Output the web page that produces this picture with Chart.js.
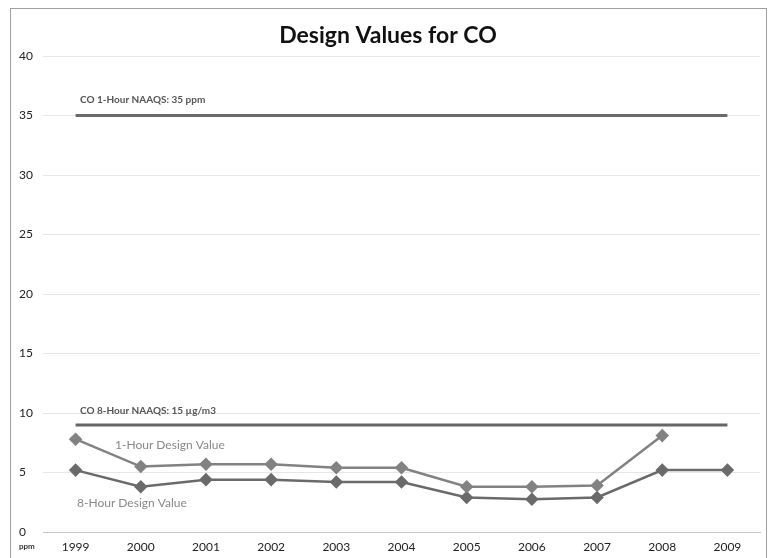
<!DOCTYPE html>
<html>
<head>
<meta charset="utf-8">
<script src="https://cdn.jsdelivr.net/npm/chart.js@4"></script>
<style>
  html, body { margin: 0; padding: 0; background: #fff; }
  #wrap { width: 774px; height: 558px; position: relative; }
</style>
</head>
<body>
<div id="wrap"><canvas id="coChart" width="774" height="558"></canvas></div>
<script>
// data
const years = ['1999', '2000', '2001', '2002', '2003', '2004', '2005', '2006', '2007', '2008', '2009'];
const oneHourValues = [7.8, 5.5, 5.7, 5.7, 5.4, 5.4, 3.8, 3.8, 3.9, 8.1, null];
const eightHourValues = [5.2, 3.8, 4.4, 4.4, 4.2, 4.2, 2.9, 2.75, 2.9, 5.2, 5.2];
const oneHourStandard = [35, 35, 35, 35, 35, 35, 35, 35, 35, 35, 35];
const eightHourStandard = [9, 9, 9, 9, 9, 9, 9, 9, 9, 9, 9];
const yTicks = [0, 5, 10, 15, 20, 25, 30, 35, 40];

const fontFamily = 'Lato, "Open Sans", sans-serif';

// title, frame and the in-plot text labels
const decorations = {
    id: 'decorations',
    afterDraw(chart) {
        const ctx = chart.ctx;
        const y = chart.scales.y;
        ctx.save();
        ctx.strokeStyle = '#a0a0a0';
        ctx.lineWidth = 1;
        ctx.strokeRect(10.5, 8.5, 756, 600);

        ctx.fillStyle = '#111';
        ctx.font = 'bold 23px ' + fontFamily;
        ctx.textAlign = 'center';
        ctx.textBaseline = 'middle';
        ctx.fillText('Design Values for CO', 388, 36);

        ctx.textAlign = 'left';
        ctx.fillStyle = '#555';
        ctx.font = 'bold 10px ' + fontFamily;
        ctx.fillText('CO 1-Hour NAAQS: 35 ppm', 80, y.getPixelForValue(36.3));
        ctx.fillText('CO 8-Hour NAAQS: 15 \u00b5g/m3', 80, y.getPixelForValue(10.2));

        ctx.fillStyle = '#888';
        ctx.font = '12px ' + fontFamily;
        ctx.fillText('1-Hour Design Value', 115, y.getPixelForValue(7.3));
        ctx.fillText('8-Hour Design Value', 77, y.getPixelForValue(2.4));

        ctx.fillStyle = '#333';
        ctx.font = 'bold 8px ' + fontFamily;
        ctx.fillText('ppm', 19, 546);
        ctx.restore();
    }
};

new Chart(document.getElementById('coChart'), {
    type: 'line',
    data: {
        labels: years,
        datasets: [
            {
                label: 'CO 1-Hour NAAQS',
                data: oneHourStandard,
                borderColor: '#6a6a6a',
                borderWidth: 3,
                pointRadius: 0
            },
            {
                label: 'CO 8-Hour NAAQS',
                data: eightHourStandard,
                borderColor: '#666',
                borderWidth: 3,
                pointRadius: 0
            },
            {
                label: '1-Hour Design Value',
                data: oneHourValues,
                borderColor: '#828282',
                backgroundColor: '#828282',
                borderWidth: 2.5,
                pointStyle: 'rectRot',
                pointRadius: 5,
                pointHoverRadius: 5
            },
            {
                label: '8-Hour Design Value',
                data: eightHourValues,
                borderColor: '#6a6a6a',
                backgroundColor: '#6a6a6a',
                borderWidth: 2.5,
                pointStyle: 'rectRot',
                pointRadius: 5,
                pointHoverRadius: 5
            }
        ]
    },
    options: {
        responsive: false,
        animation: false,
        layout: { padding: { top: 56, right: 14, left: 19, bottom: 0 } },
        plugins: {
            legend: { display: false },
            title: { display: false },
            tooltip: { enabled: false }
        },
        scales: {
            x: {
                offset: true,
                grid: { display: false, drawTicks: false },
                border: { color: '#c8c8c8' },
                ticks: { color: '#222', font: { family: fontFamily, size: 12 }, padding: 8 },
                afterFit(scale) { scale.height = 26; }
            },
            y: {
                min: 0,
                max: 40,
                afterBuildTicks(scale) { scale.ticks = yTicks.map(v => ({ value: v })); },
                grid: { color: '#e6e6e6', drawTicks: false },
                border: { display: false },
                ticks: { color: '#222', font: { family: fontFamily, size: 12 }, padding: 0, crossAlign: 'far' },
                afterFit(scale) { scale.width = 24; }
            }
        }
    },
    plugins: [decorations]
});
</script>
</body>
</html>
